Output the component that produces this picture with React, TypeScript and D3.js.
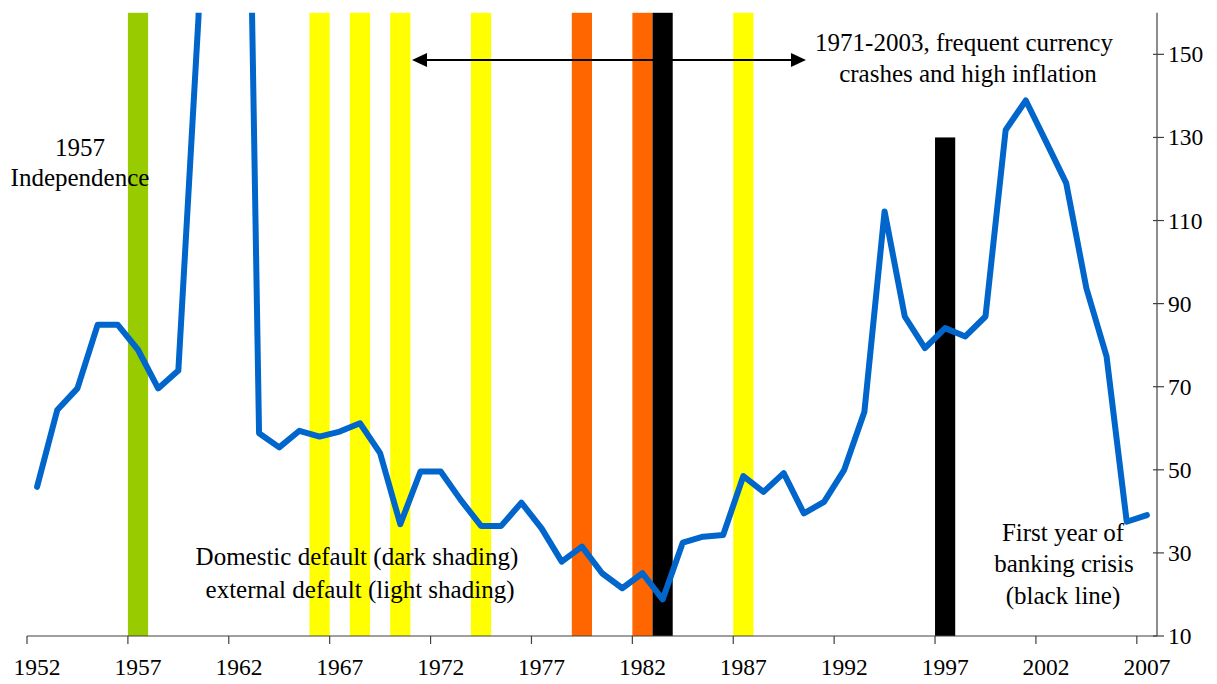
import React from "react";
import * as d3 from "d3";

const years = [
  1952, 1953, 1954, 1955, 1956, 1957, 1958, 1959, 1960, 1961, 1962, 1963, 1964, 1965,
  1966, 1967, 1968, 1969, 1970, 1971, 1972, 1973, 1974, 1975, 1976, 1977, 1978, 1979,
  1980, 1981, 1982, 1983, 1984, 1985, 1986, 1987, 1988, 1989, 1990, 1991, 1992, 1993,
  1994, 1995, 1996, 1997, 1998, 1999, 2000, 2001, 2002, 2003, 2004, 2005, 2006, 2007,
];
const seriesValues = [
  45.9, 64.4, 69.6, 84.9, 84.9, 78.9, 69.6, 73.9, 159, 400, 350, 58.8, 55.4, 59.4,
  58.0, 59.2, 61.2, 54.0, 36.9, 49.6, 49.6, 42.7, 36.5, 36.5, 42.1, 35.9, 27.9, 31.5,
  25.1, 21.5, 25.1, 18.8, 32.5, 33.9, 34.3, 48.5, 44.7, 49.2, 39.5, 42.3, 50.0, 64.0,
  112.2, 86.9, 79.3, 84.1, 82.1, 86.9, 131.8, 138.9, 129.0, 119.0, 93.7, 77.3, 37.5, 39.1,
];
const independenceYears = [1957];
const externalDefaultYears = [1966, 1968, 1970, 1974, 1987];
const domesticDefaultYears = [1979, 1982];
const bankingCrisisYears = [1983, 1997];
const bankingCrisisHeights = [160, 130];
const xTickLabels = [1952, 1957, 1962, 1967, 1972, 1977, 1982, 1987, 1992, 1997, 2002, 2007];
const yTickLabels = [10, 30, 50, 70, 90, 110, 130, 150];
const yDomain = [10, 160];

const W = 1217;
const H = 684;
const left = 27;
const right = 1157;
const top = 12.8;
const bottom = 636;

const FONT = "'Liberation Serif', 'Times New Roman', serif";

export default function App() {
  const x = d3.scaleBand<number>().domain(years).range([left, right]).padding(0);
  const y = d3.scaleLinear().domain(yDomain).range([bottom, top]);
  const bw = x.bandwidth();
  const cx = (yr: number) => (x(yr) as number) + bw / 2;

  const line = d3
    .line<number>()
    .x((_, i) => cx(years[i]))
    .y((d) => y(d));

  const fullBar = (yr: number, color: string, key: string) => (
    <rect key={key} x={x(yr)} y={y(160)} width={bw} height={y(10) - y(160)} fill={color} />
  );

  const textStyle = { fontFamily: FONT, fontSize: 25, fill: "#000" } as const;
  const tickStyle = { fontFamily: FONT, fontSize: 23.5, fill: "#000" } as const;

  return (
    <svg
      width={W}
      height={H}
      style={{ position: "absolute", left: 0, top: 0, background: "#fff" }}
    >
      <defs>
        <clipPath id="plotClip">
          <rect x={left} y={top} width={right - left} height={bottom - top} />
        </clipPath>
      </defs>
      <rect x={0} y={0} width={W} height={H} fill="#fff" />

      {/* shading bars */}
      {independenceYears.map((yr) => fullBar(yr, "#99CC00", "g" + yr))}
      {externalDefaultYears.map((yr) => fullBar(yr, "#FFFF00", "e" + yr))}
      {domesticDefaultYears.map((yr) => fullBar(yr, "#FF6600", "d" + yr))}
      {bankingCrisisYears.map((yr, i) => (
        <rect
          key={"b" + yr}
          x={x(yr)}
          y={y(bankingCrisisHeights[i])}
          width={bw}
          height={y(10) - y(bankingCrisisHeights[i])}
          fill="#000"
        />
      ))}

      {/* x axis */}
      <line x1={left} x2={right} y1={bottom} y2={bottom} stroke="#404040" strokeWidth={1.2} />
      {xTickLabels.map((yr) => (
        <g key={"xt" + yr}>
          <line
            x1={x(yr)}
            x2={x(yr)}
            y1={bottom}
            y2={bottom + 8}
            stroke="#404040"
            strokeWidth={1.2}
          />
          <text x={cx(yr)} y={675} textAnchor="middle" style={tickStyle}>
            {yr}
          </text>
        </g>
      ))}

      {/* right y axis */}
      <line x1={right} x2={right} y1={top} y2={bottom} stroke="#404040" strokeWidth={1.2} />
      {yTickLabels.map((v) => (
        <g key={"yt" + v}>
          <line
            x1={right - 4}
            x2={right + 7}
            y1={y(v)}
            y2={y(v)}
            stroke="#404040"
            strokeWidth={1.2}
          />
          <text x={1168} y={y(v) + 8} textAnchor="start" style={tickStyle}>
            {v}
          </text>
        </g>
      ))}

      {/* data line */}
      <g clipPath="url(#plotClip)">
        <path
          d={line(seriesValues) || ""}
          fill="none"
          stroke="#0066CC"
          strokeWidth={6}
          strokeLinejoin="round"
          strokeLinecap="round"
        />
      </g>

      {/* arrow */}
      <line x1={426} x2={792} y1={60} y2={60} stroke="#000" strokeWidth={2} />
      <path d="M412,60 L427,53 L427,67 Z" fill="#000" />
      <path d="M806,60 L791,53 L791,67 Z" fill="#000" />

      {/* annotations */}
      <text x={80} y={156} textAnchor="middle" style={textStyle}>1957</text>
      <text x={80} y={186} textAnchor="middle" style={textStyle}>Independence</text>

      <text x={964} y={51} textAnchor="middle" style={textStyle}>1971-2003, frequent currency</text>
      <text x={968} y={82} textAnchor="middle" style={textStyle}>crashes and high inflation</text>

      <text x={357} y={565} textAnchor="middle" style={textStyle}>Domestic default (dark shading)</text>
      <text x={360} y={598} textAnchor="middle" style={textStyle}>external default (light shading)</text>

      <text x={1063} y={541} textAnchor="middle" style={textStyle}>First year of</text>
      <text x={1064} y={572} textAnchor="middle" style={textStyle}>banking crisis</text>
      <text x={1063} y={604} textAnchor="middle" style={textStyle}>(black line)</text>
    </svg>
  );
}
